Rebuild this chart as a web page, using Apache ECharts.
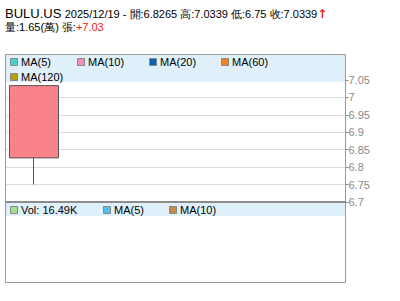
<!DOCTYPE html>
<html><head><meta charset="utf-8">
<script src="https://cdn.jsdelivr.net/npm/echarts@6/dist/echarts.min.js"></script>
<style>html,body{margin:0;padding:0;background:#fff}#c{width:400px;height:301px}</style>
</head><body><div id="c"></div>
<script>
const symbol = 'BULU.US';
const dates = ['2025/12/19'];
const opens = [6.8265];
const highs = [7.0339];
const lows = [6.75];
const closes = [7.0339];
const volumes = [16490];
const prevClose = 0;
const slotCount = 6;
const yTicks = [6.7, 6.75, 6.8, 6.85, 6.9, 6.95, 7, 7.05];
const maLabels = ['MA(5)', 'MA(10)', 'MA(20)', 'MA(60)', 'MA(120)'];
const maColors = ['#44d4cc', '#f48cbc', '#0a64b4', '#f4821e', '#b4a400'];
const volLabels = ['MA(5)', 'MA(10)'];
const volColors = ['#a4e08c', '#54c0f0', '#c48c48'];

const FONT = '"Liberation Sans", Arial, sans-serif';
const cats = dates.concat(Array(slotCount - dates.length).fill(''));
const candle = dates.map((d, i) => [opens[i], closes[i], lows[i], highs[i]]);
const last = dates.length - 1;
const chg = closes[last] - prevClose;
const volK = (volumes[last] / 1000).toFixed(2) + 'K';
const volWan = (volumes[last] / 10000).toFixed(2);

const chart = echarts.init(document.getElementById('c'), null, {renderer: 'svg'});

const g = [];
// main panel band + border
g.push({type: 'rect', z: 5, shape: {x: 6, y: 55, width: 339, height: 27}, style: {fill: '#dff0fa'}});
g.push({type: 'rect', z: 6, shape: {x: 5.5, y: 54.5, width: 340, height: 147}, style: {fill: null, stroke: '#999', lineWidth: 1}});
g.push({type: 'line', z: 7, shape: {x1: 5, y1: 202, x2: 346, y2: 202}, style: {stroke: '#8c8c8c', lineWidth: 2}});
// volume panel
g.push({type: 'rect', z: 5, shape: {x: 6, y: 203, width: 339, height: 13}, style: {fill: '#dff0fa'}});
g.push({type: 'rect', z: 6, shape: {x: 5.5, y: 202, width: 340, height: 80.5}, style: {fill: null, stroke: '#999', lineWidth: 1}});

const maPos = [[10, 62], [77, 62], [149, 62], [221, 62], [10, 77]];
maLabels.forEach((t, i) => {
  const [x, y] = maPos[i];
  g.push({type: 'rect', z: 8, shape: {x: x + 0.5, y: y - 3.5, width: 7, height: 7}, style: {fill: maColors[i], stroke: '#888', lineWidth: 1}});
  g.push({type: 'text', z: 8, x: x + 11, y: y, style: {text: t, fill: '#000', font: '11px ' + FONT, verticalAlign: 'middle'}});
});
const volTexts = ['Vol: ' + volK].concat(volLabels);
const volPos = [10, 103, 169];
volTexts.forEach((t, i) => {
  const x = volPos[i], y = 210;
  g.push({type: 'rect', z: 8, shape: {x: x + 0.5, y: y - 3.5, width: 7, height: 7}, style: {fill: volColors[i], stroke: '#888', lineWidth: 1}});
  g.push({type: 'text', z: 8, x: x + 11, y: y, style: {text: t, fill: '#000', font: '11px ' + FONT, verticalAlign: 'middle'}});
});
// title lines
g.push({type: 'text', z: 8, left: 5, top: 7, style: {
  text: '{a|' + symbol + '} {b|' + dates[last] + ' - 開:' + opens[last] + ' 高:' + highs[last] + ' 低:' + lows[last] + ' 收:' + closes[last] + '}{r|↑}',
  rich: {
    a: {font: '13px ' + FONT, fill: '#000'},
    b: {font: '11px ' + FONT, fill: '#000'},
    r: {font: 'bold 12px "DejaVu Sans", sans-serif', fill: '#f02020'}
  }
}});
g.push({type: 'text', z: 8, left: 5, top: 21, style: {
  text: '{b|量:' + volWan + '(萬) 張:}{r|' + (chg >= 0 ? '+' : '') + chg.toFixed(2) + '}',
  rich: {
    b: {font: '11px ' + FONT, fill: '#000'},
    r: {font: '11px ' + FONT, fill: '#f02020'}
  }
}});

chart.setOption({
  animation: false,
  backgroundColor: '#fff',
  grid: {left: 5.5, right: 54.5, top: 80, height: 122, containLabel: false},
  xAxis: {type: 'category', data: cats, boundaryGap: true, axisLine: {show: false}, axisTick: {show: false}, axisLabel: {show: false}, splitLine: {show: false}},
  yAxis: {
    type: 'value', position: 'right', scale: true,
    min: yTicks[0], max: yTicks[yTicks.length - 1], interval: 0.05,
    axisLine: {show: false},
    axisTick: {show: true, length: 3, lineStyle: {color: '#888'}},
    axisLabel: {color: '#8a8a8a', fontSize: 11, fontFamily: FONT, margin: 3, formatter: v => String(+v.toFixed(2))},
    splitLine: {show: true, lineStyle: {color: '#dcdcdc', width: 1}}
  },
  series: [{
    type: 'candlestick', data: candle, barWidth: 50, z: 10,
    itemStyle: {color: '#fa828a', color0: '#60c060', borderColor: '#555', borderColor0: '#555', borderWidth: 1}
  }],
  graphic: g
});
</script></body></html>
